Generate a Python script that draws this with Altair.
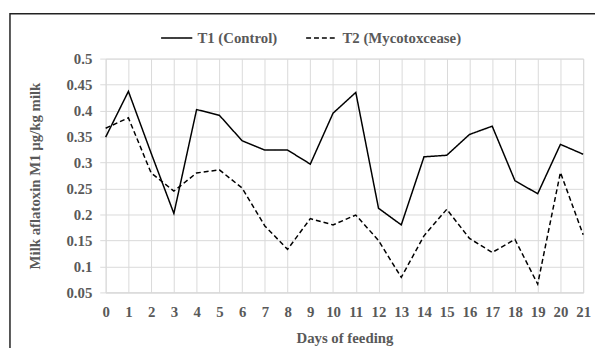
import altair as alt
import pandas as pd

days = list(range(22))
t1 = [0.349, 0.437, 0.318, 0.202, 0.402, 0.391, 0.342, 0.324, 0.324, 0.297, 0.395,
      0.435, 0.212, 0.180, 0.311, 0.314, 0.354, 0.370, 0.265, 0.240, 0.335, 0.316]
t2 = [0.366, 0.386, 0.280, 0.245, 0.280, 0.286, 0.251, 0.178, 0.133, 0.192, 0.180,
      0.199, 0.150, 0.079, 0.159, 0.210, 0.154, 0.127, 0.152, 0.066, 0.281, 0.161]
series_names = ["T1 (Control)", "T2 (Mycotoxcease)"]
y_ticks = [0.05, 0.1, 0.15, 0.2, 0.25, 0.3, 0.35, 0.4, 0.45, 0.5]

rows = []
for name, vals in zip(series_names, [t1, t2]):
    for d, v in zip(days, vals):
        rows.append({"day": d, "value": v, "series": name})
df = pd.DataFrame(rows)

FONT = "Liberation Serif"
GRAY = "#595959"
GRID = "#d9d9d9"

lines = alt.Chart(df).mark_line(color="black", strokeWidth=1.5).encode(
    x=alt.X("day:Q",
            scale=alt.Scale(domain=[0, 21], nice=False, zero=False),
            axis=alt.Axis(values=days, grid=True, gridColor=GRID, ticks=False,
                          domain=True, domainColor=GRID, labelPadding=12,
                          labelFlush=False, labelOverlap=False,
                          labelFont=FONT, labelFontSize=15, labelFontWeight="bold",
                          labelColor=GRAY, title="Days of feeding", titleFont=FONT,
                          titleFontSize=15, titleFontWeight="bold", titleColor=GRAY,
                          titleY=46, titleBaseline="middle")),
    y=alt.Y("value:Q",
            scale=alt.Scale(domain=[0.05, 0.5], nice=False, zero=False),
            axis=alt.Axis(values=y_ticks, format="~g", grid=True, gridColor=GRID,
                          ticks=True, tickSize=6, tickColor=GRID, domain=False,
                          labelPadding=8, labelFont=FONT, labelFontSize=15,
                          labelFontWeight="bold", labelColor=GRAY,
                          title="Milk aflatoxin M1 µg/kg milk", titleFont=FONT,
                          titleFontSize=15, titleFontWeight="bold", titleColor=GRAY,
                          titleX=-72, titleY=118.5, titleAngle=-90,
                          titleAlign="center", titleBaseline="middle")),
    strokeDash=alt.StrokeDash("series:N",
                              scale=alt.Scale(domain=series_names, range=[[1, 0], [5, 3]]),
                              legend=alt.Legend(title=None, orient="none", legendX=55,
                                                legendY=-38, direction="horizontal",
                                                symbolType="stroke", symbolSize=1000,
                                                symbolStrokeColor="black",
                                                symbolStrokeWidth=1.5, labelOffset=4,
                                                columnPadding=26, labelFont=FONT,
                                                labelFontSize=15, labelFontWeight="bold",
                                                labelColor=GRAY)),
)

frame = alt.Chart(alt.Data(values=[{}])).mark_rect(
    filled=False, stroke="#222222", strokeWidth=1.5
).encode(x=alt.value(-97), y=alt.value(-45.5), x2=alt.value(800), y2=alt.value(600))

chart = alt.layer(frame, lines).properties(
    width=484, height=237,
    autosize=alt.AutoSizeParams(type="none"),
    padding={"left": 99, "top": 49, "right": 12, "bottom": 54},
).configure_view(stroke=None).configure(background="white")

chart.save("out.html", embed_options={"renderer": "svg", "actions": False})
